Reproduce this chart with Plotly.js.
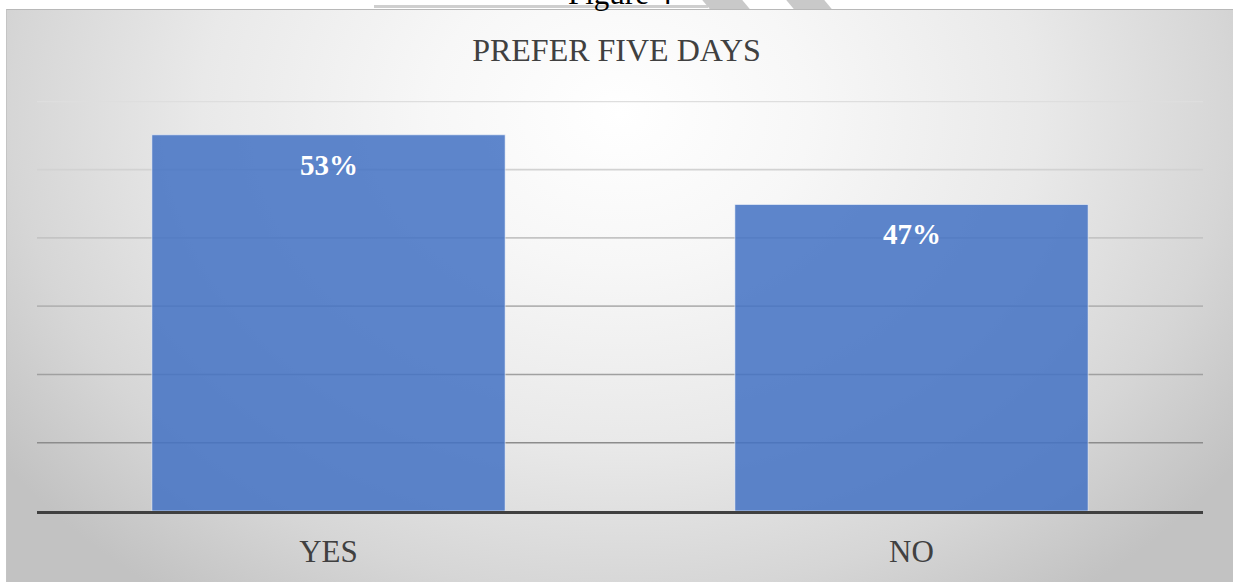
<!DOCTYPE html>
<html>
<head>
<meta charset="utf-8">
<script src="https://cdn.plot.ly/plotly-3.0.1.min.js"></script>
<style>
  html, body { margin: 0; padding: 0; background: #ffffff; width: 1233px; height: 582px; overflow: hidden; }
  #frame {
    position: absolute; left: 6px; top: 9px; width: 1227px; height: 573px;
    box-sizing: border-box; border-top: 1px solid #b8b8b8; border-left: 1px solid #c4c4c4;
    background: radial-gradient(ellipse 62% 105% at 50% 18%, #ffffff 0%, #f7f7f7 25%, #e9e9e9 55%, #d6d6d6 80%, #c2c2c2 100%);
  }
  #hdrline { position: absolute; left: 374px; top: 5px; width: 334px; height: 3px; background: #cfcfcf; }
  .wm { position: absolute; top: 0px; height: 9px; background: #c9c9c9; transform: skewX(40deg); }
  #chart { position: absolute; left: 0; top: 0; width: 1233px; height: 582px; }
</style>
</head>
<body>
<div id="hdrline"></div>
<div class="wm" style="left:706px;width:40px;"></div>
<div class="wm" style="left:790px;width:38px;"></div>
<div id="frame"></div>
<div id="chart"></div>
<script>
// Data
const categories = ["YES", "NO"];
const barValues = [0.551, 0.449];        // bar heights as drawn (gridlines every 10%)
const labelTexts = ["53%", "47%"];        // data labels printed on the bars
const gridValues = [0.1, 0.2, 0.3, 0.4, 0.5, 0.6];
const gridColors = ["#8c8c8c", "#a0a0a0", "#b3b3b3", "#c4c4c4", "#d2d2d2", "#dedede"];

const serif = "Liberation Serif";

const trace = {
  type: "bar",
  x: categories,
  y: barValues,
  marker: { color: "rgba(68,114,196,0.86)", line: { color: "rgba(255,255,255,0.55)", width: 1 } },
  hoverinfo: "none"
};

const shapes = gridValues.map((v, i) => ({
  type: "line", xref: "paper", yref: "y", x0: 0, x1: 1, y0: v, y1: v,
  line: { color: gridColors[i], width: 1.6 }, layer: "below"
}));

const annotations = categories.map((c, i) => ({
  x: c, y: barValues[i], xref: "x", yref: "y",
  text: labelTexts[i], showarrow: false, yanchor: "middle", yshift: -30,
  font: { family: serif, size: 29, color: "#ffffff", weight: "bold" }
}));

annotations.push({
  xref: "paper", yref: "paper", x: 0.5, y: 1, yanchor: "bottom", yshift: 88,
  text: "Figure 4", showarrow: false,
  font: { family: serif, size: 31, color: "#000000" }
});

const layout = {
  width: 1233, height: 582,
  margin: { l: 37, r: 30, t: 101, b: 71 },
  paper_bgcolor: "rgba(0,0,0,0)",
  plot_bgcolor: "rgba(0,0,0,0)",
  title: { text: "PREFER FIVE DAYS", x: 0.5, xanchor: "center", y: 1, yref: "container", yanchor: "top", pad: { t: 39 },
           font: { family: serif, size: 32, color: "#404040" } },
  showlegend: false,
  bargap: 0.394,
  xaxis: {
    showgrid: false, zeroline: false, showline: true, linecolor: "#404040", linewidth: 3,
    ticks: "", ticklabelstandoff: 11,
    tickfont: { family: serif, size: 31, color: "#404040" }
  },
  yaxis: {
    range: [0, 0.6005], showgrid: false, zeroline: false, showticklabels: false, ticks: ""
  },
  shapes: shapes,
  annotations: annotations
};

Plotly.newPlot("chart", [trace], layout, { staticPlot: true, displayModeBar: false });
</script>
</body>
</html>
